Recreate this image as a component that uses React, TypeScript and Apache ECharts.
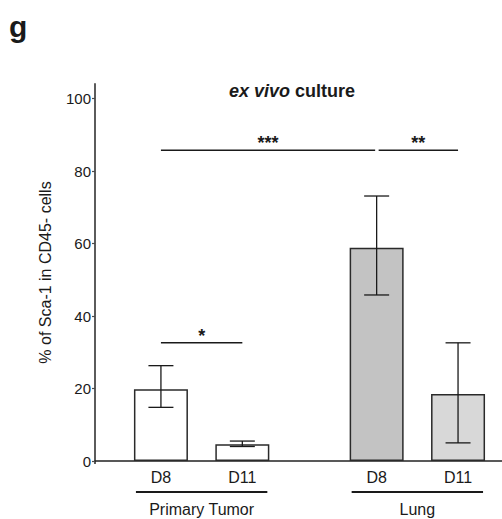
import React, { useEffect, useRef } from "react";
import * as echarts from "echarts";

const categories = ["D8", "D11", "D8", "D11"];
const xPositions = [0.81, 1.81, 3.46, 4.46];
const means = [19.8, 4.6, 58.8, 18.5];
const errLow = [14.8, 4.0, 45.8, 5.0];
const errHigh = [26.3, 5.5, 73.1, 32.6];
const barColors = ["#ffffff", "#ffffff", "#c3c3c3", "#d8d8d8"];
const groupNames = ["Primary Tumor", "Lung"];
const groupFirst = [0, 2];
const groupLast = [1, 3];
const sigLabels = ["***", "**", "*"];
const sigFrom = [0, 2, 0];
const sigTo = [2, 3, 1];
const sigLevel = [85.7, 85.7, 32.6];
const yTicks = [0, 20, 40, 60, 80, 100];

const FONT = "Liberation Sans, Arial, Helvetica, sans-serif";
const INK = "#1a1a1a";

export default function App() {
  const ref = useRef<HTMLDivElement>(null);
  useEffect(() => {
    if (!ref.current) return;
    const chart = echarts.init(ref.current, undefined, { renderer: "svg" });

    const barData = means.map((m, i) => ({
      value: [xPositions[i], m],
      itemStyle: { color: barColors[i], borderColor: "#2a2a2a", borderWidth: 1.5 },
    }));
    const errData = means.map((_, i) => [xPositions[i], errLow[i], errHigh[i]]);
    const labelData = categories.map((c, i) => [xPositions[i], 0, c]);
    const groupData = groupNames.map((g, i) => [xPositions[groupFirst[i]], xPositions[groupLast[i]], g]);
    const sigData = sigLabels.map((s, i) => [xPositions[sigFrom[i]], xPositions[sigTo[i]], sigLevel[i], s]);

    chart.setOption({
      animation: false,
      textStyle: { fontFamily: FONT },
      graphic: [
        {
          type: "text",
          left: 9,
          top: 11,
          style: { text: "g", font: "bold 30px " + FONT, fill: INK },
        },
        {
          type: "line",
          shape: { x1: 95, y1: 461, x2: 95, y2: 464 },
          style: { stroke: "#4a4a4a", lineWidth: 1.8 },
        },
      ],
      title: {
        text: "{i|ex vivo} {b|culture}",
        left: 229,
        top: 82,
        padding: 0,
        textStyle: {
          rich: {
            i: { fontStyle: "italic", fontWeight: "bold", fontSize: 18, fontFamily: FONT, color: INK },
            b: { fontWeight: "bold", fontSize: 18, fontFamily: FONT, color: INK },
          },
        },
      },
      grid: { left: 95, right: 0, top: 84, bottom: 58 },
      xAxis: {
        type: "value",
        min: 0,
        max: 5,
        axisLine: { show: true, onZero: true, lineStyle: { color: "#222", width: 1.6 } },
        axisTick: { show: false },
        axisLabel: { show: false },
        splitLine: { show: false },
      },
      yAxis: {
        type: "value",
        min: 0,
        max: 104,
        name: "% of Sca-1 in CD45- cells",
        nameLocation: "middle",
        nameGap: 42,
        nameTextStyle: { fontSize: 16, color: INK, fontFamily: FONT },
        axisLine: { show: true, lineStyle: { color: "#4a4a4a", width: 1.8 } },
        axisTick: { show: true, length: 3, customValues: yTicks, lineStyle: { color: "#4a4a4a", width: 1.2 } },
        axisLabel: { customValues: yTicks, fontSize: 15, color: INK, margin: 4, fontFamily: FONT },
        splitLine: { show: false },
      },
      series: [
        {
          type: "bar",
          data: barData,
          barWidth: 54,
          z: 2,
        },
        {
          type: "custom",
          z: 5,
          data: errData,
          renderItem: (params: any, api: any) => {
            const x = api.value(0);
            const top = api.coord([x, api.value(2)]);
            const bot = api.coord([x, api.value(1)]);
            const style = { stroke: INK, lineWidth: 1.3 };
            return {
              type: "group",
              children: [
                { type: "line", shape: { x1: top[0], y1: top[1], x2: bot[0], y2: bot[1] }, style },
                { type: "line", shape: { x1: top[0] - 12.5, y1: top[1], x2: top[0] + 12.5, y2: top[1] }, style },
                { type: "line", shape: { x1: bot[0] - 12.5, y1: bot[1], x2: bot[0] + 12.5, y2: bot[1] }, style },
              ],
            };
          },
        },
        {
          type: "custom",
          z: 5,
          clip: false,
          data: sigData,
          renderItem: (params: any, api: any) => {
            const a = api.coord([api.value(0), api.value(2)]);
            const b = api.coord([api.value(1), api.value(2)]);
            const x1 = a[0] + (params.dataIndex === 1 ? 2 : 0);
            const x2 = b[0] - (params.dataIndex === 0 ? 1.5 : 0);
            const text = sigLabels[params.dataIndex];
            return {
              type: "group",
              children: [
                { type: "line", shape: { x1, y1: a[1], x2, y2: a[1] }, style: { stroke: INK, lineWidth: 1.5 } },
                {
                  type: "text",
                  x: (x1 + x2) / 2,
                  y: a[1] + 2,
                  style: { text, align: "center", verticalAlign: "bottom", font: "bold 18px " + FONT, fill: INK },
                },
              ],
            };
          },
        },
        {
          type: "custom",
          z: 5,
          clip: false,
          data: labelData,
          renderItem: (params: any, api: any) => {
            const p = api.coord([api.value(0), 0]);
            return {
              type: "text",
              x: p[0],
              y: p[1] + 16,
              style: {
                text: categories[params.dataIndex],
                align: "center",
                verticalAlign: "middle",
                font: "16px " + FONT,
                fill: INK,
              },
            };
          },
        },
        {
          type: "custom",
          z: 5,
          clip: false,
          data: groupData,
          renderItem: (params: any, api: any) => {
            const a = api.coord([api.value(0), 0]);
            const b = api.coord([api.value(1), 0]);
            const x1 = a[0] - 25;
            const x2 = b[0] + 25;
            return {
              type: "group",
              children: [
                { type: "line", shape: { x1, y1: a[1] + 31, x2, y2: a[1] + 31 }, style: { stroke: INK, lineWidth: 2 } },
                {
                  type: "text",
                  x: (x1 + x2) / 2,
                  y: a[1] + 48,
                  style: {
                    text: groupNames[params.dataIndex],
                    align: "center",
                    verticalAlign: "middle",
                    font: "16px " + FONT,
                    fill: INK,
                  },
                },
              ],
            };
          },
        },
      ],
    });
    return () => chart.dispose();
  }, []);
  return (
    <div
      ref={ref}
      style={{ position: "absolute", left: 0, top: 0, width: 502, height: 519, background: "#fff" }}
    />
  );
}
